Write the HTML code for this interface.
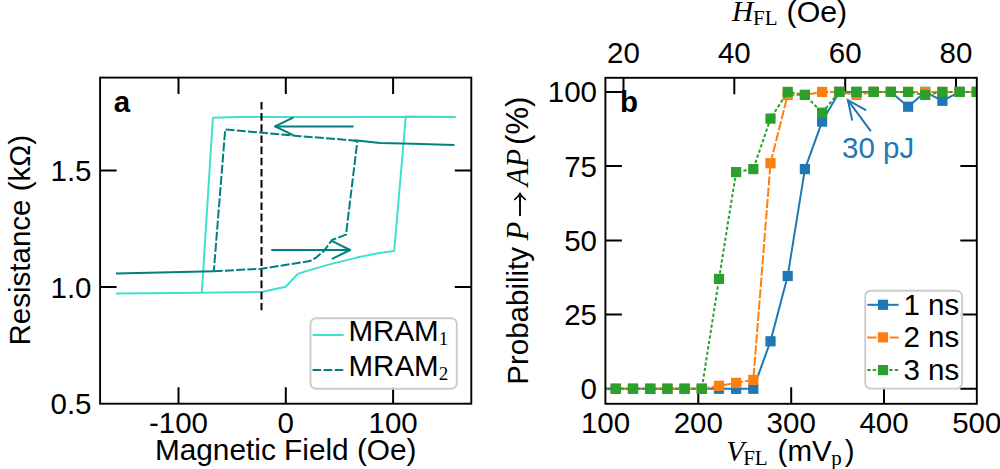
<!DOCTYPE html><html><head><meta charset="utf-8"><title>figure</title><style>html,body{margin:0;padding:0;background:#fff;width:1000px;height:469px;overflow:hidden}svg{display:block;font-family:"Liberation Sans",sans-serif}</style></head><body>
<svg width="1000" height="469" viewBox="0 0 1000 469">
<defs><clipPath id="ca"><rect x="100.1" y="77.6" width="371.2" height="326.1"/></clipPath>
<clipPath id="cb"><rect x="605.4" y="77.8" width="371.4" height="326.0"/></clipPath></defs>
<path d="M178.5,403.7V387.2M178.5,77.6V94.1M285.8,403.7V387.2M285.8,77.6V94.1M393.1,403.7V387.2M393.1,77.6V94.1M100.1,287.1H116.6M471.3,287.1H454.8M100.1,170.6H116.6M471.3,170.6H454.8" stroke="#000" stroke-width="2" fill="none"/>
<g clip-path="url(#ca)" fill="none" stroke-linejoin="round">
<polyline points="116.0,293.6 201.8,292.8 262.7,291.8 285.7,286.7 297.8,273.9 308.7,270.4 335.3,262.9 356.7,257.6 378.0,253.3 394.2,251.0 405.8,116.4 455.4,116.9" stroke="#40e0d0" stroke-width="2"/>
<polyline points="455.4,116.9 237.6,116.9 212.9,117.8 201.8,292.8" stroke="#40e0d0" stroke-width="2"/>
<polyline points="116.0,273.4 213.8,271.2" stroke="#008080" stroke-width="2"/>
<polyline points="354.3,140.3 366.0,141.6 380.0,142.9 404.0,143.6 454.4,145.0" stroke="#008080" stroke-width="2"/>
<polyline points="213.8,271.2 261.4,268.8 310.0,261.1 316.4,257.3 324.0,250.9 332.0,240.0 346.0,234.6 357.3,141.6" stroke="#008080" stroke-width="2" stroke-dasharray="9 2.2"/>
<polyline points="357.3,141.0 340.0,139.3 300.0,136.2 260.0,132.5 225.2,129.5 213.8,271.2" stroke="#008080" stroke-width="2" stroke-dasharray="9 2.2"/>
<line x1="261.5" y1="101.9" x2="261.5" y2="310.3" stroke="#000" stroke-width="2" stroke-dasharray="7.6 3.57"/>
<g stroke="#008080" stroke-width="2" stroke-linecap="round" stroke-linejoin="round">
<line x1="352.8" y1="126.4" x2="275.5" y2="126.4"/><polyline points="292.6,117.9 275.0,126.4 292.6,134.9"/>
<line x1="272" y1="250.0" x2="349.5" y2="250.0"/><polyline points="332.6,241.4 350.2,250.0 332.6,258.6"/>
</g></g>
<rect x="100.1" y="77.6" width="371.2" height="326.1" fill="none" stroke="#000" stroke-width="1.9"/>
<text x="178.5" y="433.3" font-size="29.5" text-anchor="middle">-100</text>
<text x="285.8" y="433.3" font-size="29.5" text-anchor="middle">0</text>
<text x="393.1" y="433.3" font-size="29.5" text-anchor="middle">100</text>
<text x="91.5" y="414.2" font-size="29.5" text-anchor="end">0.5</text>
<text x="91.5" y="297.6" font-size="29.5" text-anchor="end">1.0</text>
<text x="91.5" y="181.1" font-size="29.5" text-anchor="end">1.5</text>
<text x="285.7" y="460" font-size="29.8" text-anchor="middle">Magnetic Field (Oe)</text>
<text transform="translate(30.3,240.2) rotate(-90)" font-size="29.5" text-anchor="middle">Resistance (kΩ)</text>
<text x="113.8" y="111.6" font-size="29.5" font-weight="bold">a</text>
<path d="M698.3,403.8V387.3M791.2,403.8V387.3M884.0,403.8V387.3M623.5,77.8V94.3M734.3,77.8V94.3M845.2,77.8V94.3M956.0,77.8V94.3M605.4,388.8H621.9M976.8,388.8H960.3M605.4,314.6H621.9M976.8,314.6H960.3M605.4,240.4H621.9M976.8,240.4H960.3M605.4,166.1H621.9M976.8,166.1H960.3M605.4,91.9H621.9M976.8,91.9H960.3" stroke="#000" stroke-width="2" fill="none"/>
<g clip-path="url(#cb)" stroke-linejoin="round">
<polyline points="598.6,388.8 615.8,388.8 633.0,388.8 650.2,388.8 667.4,388.8 684.6,388.8 701.8,388.8 719.0,388.8 736.1,388.8 753.3,388.8 770.5,341.3 787.7,276.0 804.9,169.1 822.1,121.6 839.3,91.9 856.5,91.9 873.7,91.9 890.9,91.9 908.1,106.7 925.2,91.9 942.4,100.8 959.6,91.9 976.8,91.9" fill="none" stroke="#1f77b4" stroke-width="2"/>
<g fill="#1f77b4"><rect x="593.5" y="383.7" width="10.2" height="10.2"/><rect x="610.7" y="383.7" width="10.2" height="10.2"/><rect x="627.9" y="383.7" width="10.2" height="10.2"/><rect x="645.1" y="383.7" width="10.2" height="10.2"/><rect x="662.3" y="383.7" width="10.2" height="10.2"/><rect x="679.5" y="383.7" width="10.2" height="10.2"/><rect x="696.7" y="383.7" width="10.2" height="10.2"/><rect x="713.9" y="383.7" width="10.2" height="10.2"/><rect x="731.0" y="383.7" width="10.2" height="10.2"/><rect x="748.2" y="383.7" width="10.2" height="10.2"/><rect x="765.4" y="336.2" width="10.2" height="10.2"/><rect x="782.6" y="270.9" width="10.2" height="10.2"/><rect x="799.8" y="164.0" width="10.2" height="10.2"/><rect x="817.0" y="116.5" width="10.2" height="10.2"/><rect x="834.2" y="86.8" width="10.2" height="10.2"/><rect x="851.4" y="86.8" width="10.2" height="10.2"/><rect x="868.6" y="86.8" width="10.2" height="10.2"/><rect x="885.8" y="86.8" width="10.2" height="10.2"/><rect x="903.0" y="101.6" width="10.2" height="10.2"/><rect x="920.1" y="86.8" width="10.2" height="10.2"/><rect x="937.3" y="95.7" width="10.2" height="10.2"/><rect x="954.5" y="86.8" width="10.2" height="10.2"/><rect x="971.7" y="86.8" width="10.2" height="10.2"/></g>
<polyline points="598.6,388.8 615.8,388.8 633.0,388.8 650.2,388.8 667.4,388.8 684.6,388.8 701.8,388.8 719.0,385.8 736.1,382.9 753.3,379.9 770.5,163.2 787.7,94.9 804.9,94.9 822.1,91.9 839.3,91.9 856.5,94.9 873.7,91.9 890.9,91.9 908.1,91.9 925.2,91.9 942.4,91.9 959.6,91.9 976.8,91.9" fill="none" stroke="#ff7f0e" stroke-width="2" stroke-dasharray="9.3 2"/>
<g fill="#ff7f0e"><rect x="593.5" y="383.7" width="10.2" height="10.2"/><rect x="610.7" y="383.7" width="10.2" height="10.2"/><rect x="627.9" y="383.7" width="10.2" height="10.2"/><rect x="645.1" y="383.7" width="10.2" height="10.2"/><rect x="662.3" y="383.7" width="10.2" height="10.2"/><rect x="679.5" y="383.7" width="10.2" height="10.2"/><rect x="696.7" y="383.7" width="10.2" height="10.2"/><rect x="713.9" y="380.7" width="10.2" height="10.2"/><rect x="731.0" y="377.8" width="10.2" height="10.2"/><rect x="748.2" y="374.8" width="10.2" height="10.2"/><rect x="765.4" y="158.1" width="10.2" height="10.2"/><rect x="782.6" y="89.8" width="10.2" height="10.2"/><rect x="799.8" y="89.8" width="10.2" height="10.2"/><rect x="817.0" y="86.8" width="10.2" height="10.2"/><rect x="834.2" y="86.8" width="10.2" height="10.2"/><rect x="851.4" y="89.8" width="10.2" height="10.2"/><rect x="868.6" y="86.8" width="10.2" height="10.2"/><rect x="885.8" y="86.8" width="10.2" height="10.2"/><rect x="903.0" y="86.8" width="10.2" height="10.2"/><rect x="920.1" y="86.8" width="10.2" height="10.2"/><rect x="937.3" y="86.8" width="10.2" height="10.2"/><rect x="954.5" y="86.8" width="10.2" height="10.2"/><rect x="971.7" y="86.8" width="10.2" height="10.2"/></g>
<polyline points="598.6,388.8 615.8,388.8 633.0,388.8 650.2,388.8 667.4,388.8 684.6,388.8 701.8,388.8 719.0,278.9 736.1,172.1 753.3,169.1 770.5,118.6 787.7,91.9 804.9,94.9 822.1,112.7 839.3,91.9 856.5,91.9 873.7,91.9 890.9,91.9 908.1,91.9 925.2,94.9 942.4,91.9 959.6,91.9 976.8,91.9" fill="none" stroke="#2ca02c" stroke-width="2" stroke-dasharray="3.3 2.2"/>
<g fill="#2ca02c"><rect x="593.5" y="383.7" width="10.2" height="10.2"/><rect x="610.7" y="383.7" width="10.2" height="10.2"/><rect x="627.9" y="383.7" width="10.2" height="10.2"/><rect x="645.1" y="383.7" width="10.2" height="10.2"/><rect x="662.3" y="383.7" width="10.2" height="10.2"/><rect x="679.5" y="383.7" width="10.2" height="10.2"/><rect x="696.7" y="383.7" width="10.2" height="10.2"/><rect x="713.9" y="273.8" width="10.2" height="10.2"/><rect x="731.0" y="167.0" width="10.2" height="10.2"/><rect x="748.2" y="164.0" width="10.2" height="10.2"/><rect x="765.4" y="113.5" width="10.2" height="10.2"/><rect x="782.6" y="86.8" width="10.2" height="10.2"/><rect x="799.8" y="89.8" width="10.2" height="10.2"/><rect x="817.0" y="107.6" width="10.2" height="10.2"/><rect x="834.2" y="86.8" width="10.2" height="10.2"/><rect x="851.4" y="86.8" width="10.2" height="10.2"/><rect x="868.6" y="86.8" width="10.2" height="10.2"/><rect x="885.8" y="86.8" width="10.2" height="10.2"/><rect x="903.0" y="86.8" width="10.2" height="10.2"/><rect x="920.1" y="89.8" width="10.2" height="10.2"/><rect x="937.3" y="86.8" width="10.2" height="10.2"/><rect x="954.5" y="86.8" width="10.2" height="10.2"/><rect x="971.7" y="86.8" width="10.2" height="10.2"/></g>
</g>
<rect x="605.4" y="77.8" width="371.4" height="326.0" fill="none" stroke="#000" stroke-width="1.9"/>
<g stroke="#1f77b4" stroke-width="2" fill="none" stroke-linecap="round"><line x1="870.4" y1="130.6" x2="848.2" y2="100.6"/><polyline points="852.1,119.8 847.9,100.2 865.4,109.9"/></g>
<text x="842" y="157.8" font-size="29.5" fill="#1f77b4">30 pJ</text>
<text x="605.5" y="433.3" font-size="29.5" text-anchor="middle">100</text>
<text x="698.3" y="433.3" font-size="29.5" text-anchor="middle">200</text>
<text x="791.2" y="433.3" font-size="29.5" text-anchor="middle">300</text>
<text x="884.0" y="433.3" font-size="29.5" text-anchor="middle">400</text>
<text x="976.8" y="433.3" font-size="29.5" text-anchor="middle">500</text>
<text x="623.5" y="63.2" font-size="29.5" text-anchor="middle">20</text>
<text x="734.3" y="63.2" font-size="29.5" text-anchor="middle">40</text>
<text x="845.2" y="63.2" font-size="29.5" text-anchor="middle">60</text>
<text x="956.0" y="63.2" font-size="29.5" text-anchor="middle">80</text>
<text x="597" y="399.3" font-size="29.5" text-anchor="end">0</text>
<text x="597" y="325.1" font-size="29.5" text-anchor="end">25</text>
<text x="597" y="250.9" font-size="29.5" text-anchor="end">50</text>
<text x="597" y="176.6" font-size="29.5" text-anchor="end">75</text>
<text x="597" y="102.4" font-size="29.5" text-anchor="end">100</text>
<text x="732.0" y="21.4" font-size="29.5" font-family='"Liberation Serif", serif' font-style="italic">H</text>
<text x="753.0" y="25.4" font-size="21" font-family='"Liberation Serif", serif'>FL</text>
<text x="786.6" y="21.6" font-size="30.3">(Oe)</text>
<text x="726.3" y="461.0" font-size="29.5" font-family='"Liberation Serif", serif' font-style="italic">V</text>
<text x="743.2" y="465.0" font-size="21" font-family='"Liberation Serif", serif'>FL</text>
<text x="777.6" y="461.0" font-size="29.5">(mV</text>
<text x="831.2" y="465.0" font-size="21" font-family='"Liberation Serif", serif'>p</text>
<text x="844.7" y="461.0" font-size="29.5">)</text>
<text transform="translate(527.7,384.7) rotate(-90)" font-size="29.5">Probability</text>
<text transform="translate(527.7,240.4) rotate(-90)" font-size="30.8" font-family='"Liberation Serif", serif' font-style="italic">P</text>
<text transform="translate(527.7,186.2) rotate(-90)" font-size="30.5" font-family='"Liberation Serif", serif' font-style="italic">AP</text>
<text transform="translate(527.7,144.9) rotate(-90)" font-size="31">(%)</text>
<g stroke="#000" fill="none" stroke-width="1.9"><line x1="520" y1="215.9" x2="520" y2="194.5"/><path d="M514.3,199.8 Q518.5,196.5 520,193.6 Q521.5,196.5 525.7,199.8" stroke-width="1.7"/></g>
<text x="620" y="111.8" font-size="29.5" font-weight="bold">b</text>
<rect x="310.5" y="318.3" width="146.3" height="70.5" rx="5.5" fill="#fff" fill-opacity="0.8" stroke="#cccccc" stroke-width="1.9"/>
<line x1="312.6" y1="335" x2="343.7" y2="335" stroke="#40e0d0" stroke-width="2"/>
<line x1="312.6" y1="370" x2="343.7" y2="370" stroke="#008080" stroke-width="2" stroke-dasharray="8.5 2.6"/>
<text x="348.5" y="341" font-size="29.5">MRAM<tspan font-family='"Liberation Serif", serif' font-size="19" dy="4.2">1</tspan></text>
<text x="348.5" y="376" font-size="29.5">MRAM<tspan font-family='"Liberation Serif", serif' font-size="19" dy="4.2">2</tspan></text>
<rect x="865.2" y="290.7" width="96.9" height="97.9" rx="5.5" fill="#fff" fill-opacity="0.8" stroke="#cccccc" stroke-width="1.9"/>
<line x1="867.3" y1="304.8" x2="898.6" y2="304.8" stroke="#1f77b4" stroke-width="2"/>
<rect x="877.9" y="299.7" width="10.2" height="10.2" fill="#1f77b4"/>
<text x="903.5" y="314.6" font-size="29.5">1 ns</text>
<line x1="867.3" y1="337.4" x2="898.6" y2="337.4" stroke="#ff7f0e" stroke-width="2" stroke-dasharray="9.3 2"/>
<rect x="877.9" y="332.3" width="10.2" height="10.2" fill="#ff7f0e"/>
<text x="903.5" y="347.2" font-size="29.5">2 ns</text>
<line x1="867.3" y1="370.1" x2="898.6" y2="370.1" stroke="#2ca02c" stroke-width="2" stroke-dasharray="3.3 2.2"/>
<rect x="877.9" y="365.0" width="10.2" height="10.2" fill="#2ca02c"/>
<text x="903.5" y="379.9" font-size="29.5">3 ns</text>
</svg></body></html>
